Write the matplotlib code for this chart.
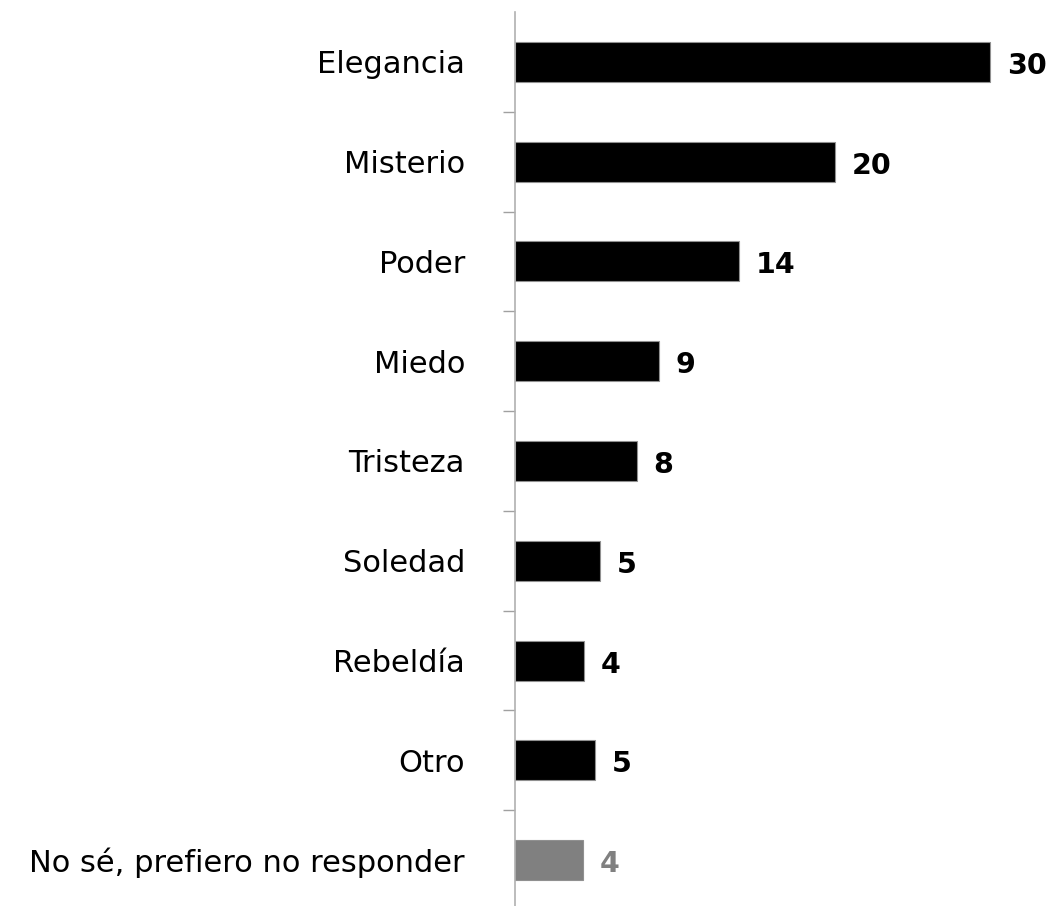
import matplotlib
matplotlib.use("Agg")
import matplotlib.pyplot as plt
import numpy as np

categories = ["Elegancia", "Misterio", "Poder", "Miedo", "Tristeza", "Soledad",
              "Rebeldía", "Otro", "No sé, prefiero no responder"]
values = [29.7, 20.0, 14.0, 9.0, 7.6, 5.3, 4.3, 5.0, 4.25]
labels = ["30", "20", "14", "9", "8", "5", "4", "5", "4"]
colors = ["#000000"] * 8 + ["#808080"]

plt.rcParams["font.family"] = ["DejaVu Sans"]

fig = plt.figure(figsize=(10.5, 9.06), dpi=100)
ax = fig.add_axes([515 / 1050, 0.0, 528 / 1050, (906 - 12) / 906])

y = np.arange(len(categories))
ax.barh(y, values, height=0.4, color=colors, edgecolor="#909090", linewidth=0.8)

# value labels right of each bar
for yi, v, lab, c in zip(y, values, labels, colors):
    ax.text(v + 1.05, yi + 0.04, lab, va="center", ha="left", fontsize=20.5,
            fontweight="bold", color=c)

ax.set_xlim(0, 33)
ax.set_ylim(8.46, -0.5)
ax.set_yticks(y)
ax.set_yticklabels(categories, fontsize=22)
ax.tick_params(axis="y", which="major", length=0, pad=36)
ax.set_yticks(np.arange(0.5, len(categories) - 1, 1.0), minor=True)
ax.tick_params(axis="y", which="minor", length=9, width=1, color="#a0a0a0")
ax.set_xticks([])
for s in ["top", "right", "bottom"]:
    ax.spines[s].set_visible(False)
ax.spines["left"].set_color("#b0b0b0")
ax.spines["left"].set_linewidth(1.2)

fig.savefig("out.png", dpi=100)
